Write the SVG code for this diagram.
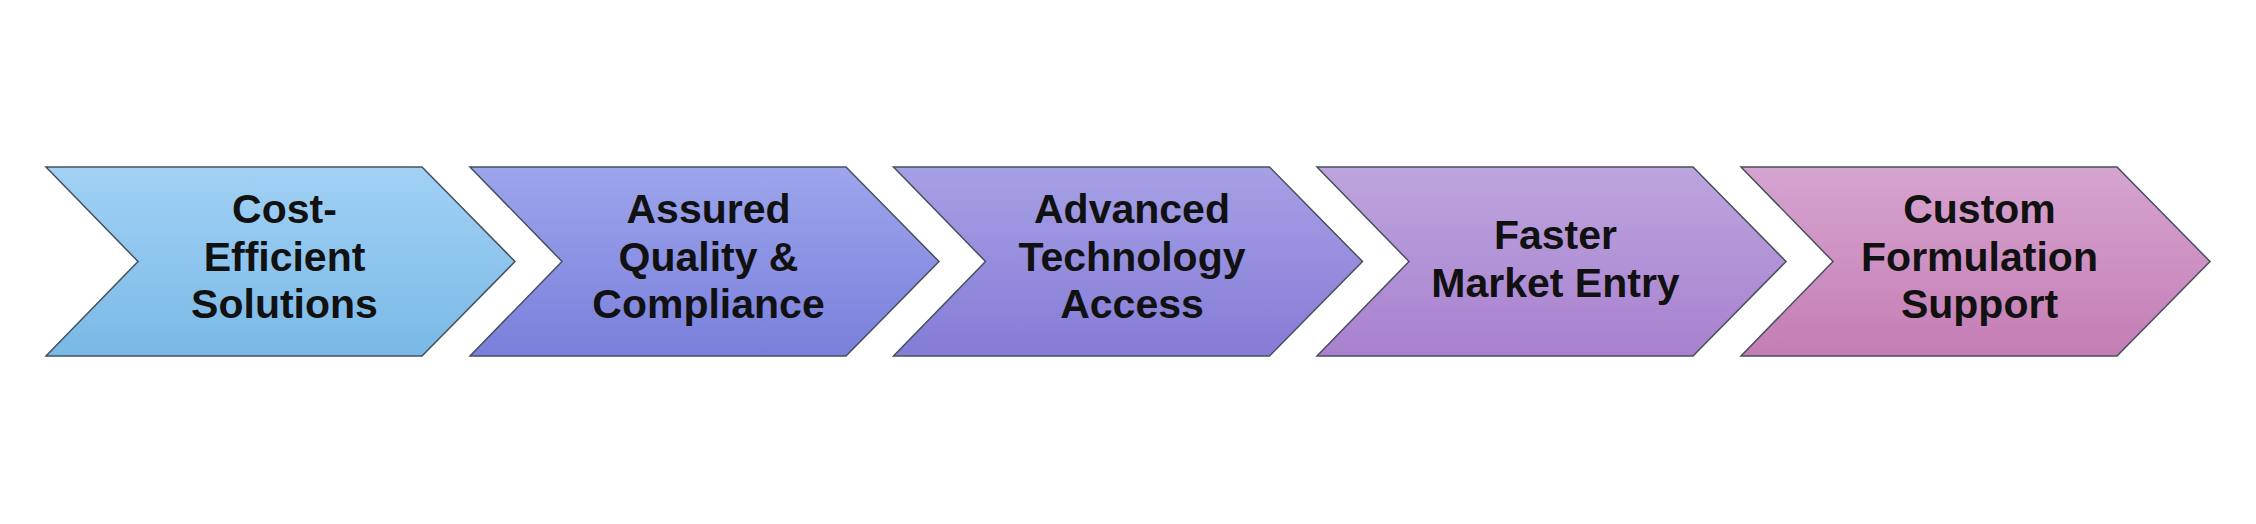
<svg xmlns="http://www.w3.org/2000/svg" width="2256" height="524" viewBox="0 0 2256 524">
  <style>
    .chev { stroke: #46505c; stroke-width: 1.5; stroke-linejoin: miter; }
    .lbl { font-family: "Liberation Sans", Arial, sans-serif; font-weight: bold; font-size: 41px; fill: #111111; text-anchor: middle; }
  </style>
  <defs>
    <path id="chevShape" d="M0,0 L376,0 L469,94.5 L376,189 L0,189 L92,94.5 Z"/>
    <linearGradient id="g1" x1="0" y1="0" x2="0" y2="1">
      <stop offset="0" stop-color="#a2d1f5"/>
      <stop offset="1" stop-color="#79b9e6"/>
    </linearGradient>
    <linearGradient id="g2" x1="0" y1="0" x2="0" y2="1">
      <stop offset="0" stop-color="#9da5ec"/>
      <stop offset="1" stop-color="#7a7fdb"/>
    </linearGradient>
    <linearGradient id="g3" x1="0" y1="0" x2="0" y2="1">
      <stop offset="0" stop-color="#a6a0e6"/>
      <stop offset="1" stop-color="#847cd6"/>
    </linearGradient>
    <linearGradient id="g4" x1="0" y1="0" x2="0" y2="1">
      <stop offset="0" stop-color="#bda5de"/>
      <stop offset="1" stop-color="#a880cf"/>
    </linearGradient>
    <linearGradient id="g5" x1="0" y1="0" x2="0" y2="1">
      <stop offset="0" stop-color="#d6a4d0"/>
      <stop offset="1" stop-color="#c47db4"/>
    </linearGradient>
  </defs>
  <rect width="2256" height="524" fill="#ffffff"/>
  <g id="connectors"></g>
  <g id="node1">
    <use href="#chevShape" x="46" y="167" class="chev" fill="url(#g1)"/>
    <text class="lbl" x="284.5" y="223">Cost-</text>
    <text class="lbl" x="284.5" y="271">Efficient</text>
    <text class="lbl" x="284.5" y="318">Solutions</text>
  </g>
  <g id="node2">
    <use href="#chevShape" x="470" y="167" class="chev" fill="url(#g2)"/>
    <text class="lbl" x="708.5" y="223">Assured</text>
    <text class="lbl" x="708.5" y="271">Quality &amp;</text>
    <text class="lbl" x="708.5" y="318">Compliance</text>
  </g>
  <g id="node3">
    <use href="#chevShape" x="893.5" y="167" class="chev" fill="url(#g3)"/>
    <text class="lbl" x="1132" y="223">Advanced</text>
    <text class="lbl" x="1132" y="271">Technology</text>
    <text class="lbl" x="1132" y="318">Access</text>
  </g>
  <g id="node4">
    <use href="#chevShape" x="1317" y="167" class="chev" fill="url(#g4)"/>
    <text class="lbl" x="1555.5" y="249">Faster</text>
    <text class="lbl" x="1555.5" y="297">Market Entry</text>
  </g>
  <g id="node5">
    <use href="#chevShape" x="1741" y="167" class="chev" fill="url(#g5)"/>
    <text class="lbl" x="1979.5" y="223">Custom</text>
    <text class="lbl" x="1979.5" y="271">Formulation</text>
    <text class="lbl" x="1979.5" y="318">Support</text>
  </g>
</svg>
